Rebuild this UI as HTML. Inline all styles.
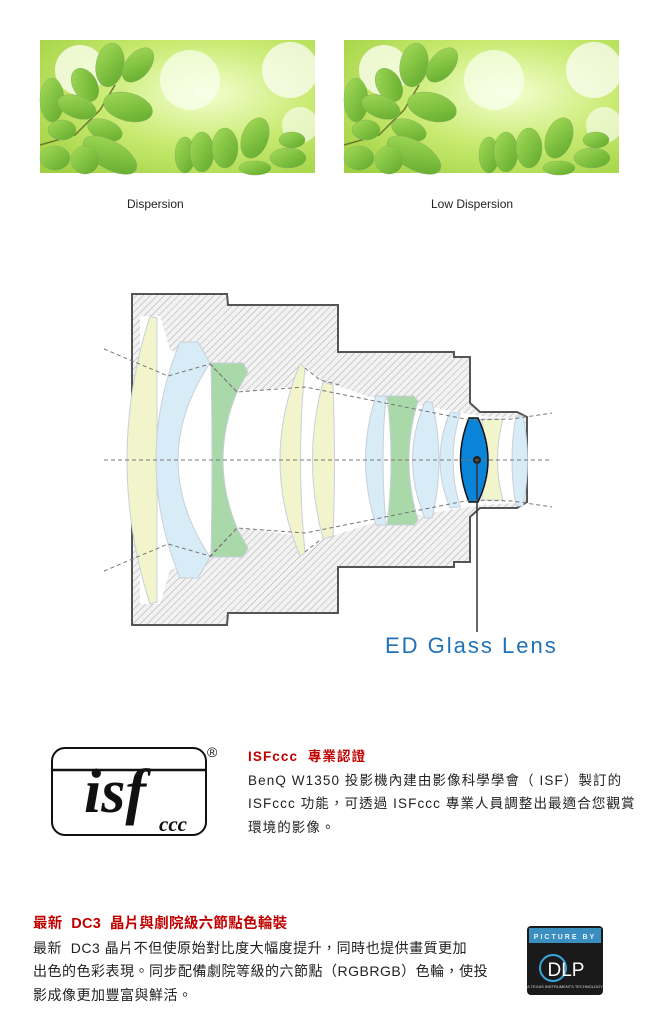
<!DOCTYPE html>
<html><head><meta charset="utf-8"><style>
body{margin:0;width:650px;height:1017px;background:#fff;position:relative;overflow:hidden;font-family:"Liberation Sans","Noto Sans CJK TC",sans-serif}
.a{position:absolute;white-space:nowrap}
.t{font-size:13.5px;color:#222;line-height:23.5px;letter-spacing:1.1px}
.r{color:#c00000;font-weight:bold}
</style></head><body>
<svg width="650" height="1017" style="position:absolute;left:0;top:0">
<defs>
<radialGradient id="bg" cx="0.6" cy="0.4" r="0.8"><stop offset="0" stop-color="#f4ffd0"/><stop offset="0.5" stop-color="#c8ea70"/><stop offset="1" stop-color="#9fd040"/></radialGradient>
<linearGradient id="lf" x1="0" y1="0" x2="1" y2="1"><stop offset="0" stop-color="#a6dc5a"/><stop offset="1" stop-color="#5fa82a"/></linearGradient>
<pattern id="h" width="5" height="5" patternUnits="userSpaceOnUse" patternTransform="rotate(45)"><rect width="5" height="5" fill="#f2f2f2"/><line x1="0" y1="0" x2="0" y2="5" stroke="#aaa" stroke-width="1"/></pattern>
<g id="ph">
<rect width="275" height="133" fill="url(#bg)"/>
<circle cx="40" cy="30" r="25" fill="#fbfff0" opacity=".8"/><circle cx="150" cy="40" r="30" fill="#fafff0" opacity=".7"/><circle cx="250" cy="30" r="28" fill="#fff" opacity=".7"/><circle cx="260" cy="85" r="18" fill="#fff" opacity=".6"/>
<path d="M0,105 L35,95 L60,70 L75,45" stroke="#6b7a2a" stroke-width="1.5" fill="none"/>
<g fill="url(#lf)" stroke="#88b060" stroke-width=".5">
<ellipse cx="70" cy="25" rx="14" ry="22" transform="rotate(10 70 25)"/>
<ellipse cx="98" cy="25" rx="12" ry="20" transform="rotate(40 98 25)"/>
<ellipse cx="45" cy="45" rx="12" ry="18" transform="rotate(-30 45 45)"/>
<ellipse cx="88" cy="67" rx="25" ry="14" transform="rotate(15 88 67)"/>
<ellipse cx="12" cy="60" rx="12" ry="22"/>
<ellipse cx="37" cy="67" rx="20" ry="11" transform="rotate(20 37 67)"/>
<ellipse cx="22" cy="90" rx="14" ry="10"/>
<ellipse cx="65" cy="90" rx="18" ry="10" transform="rotate(20 65 90)"/>
<ellipse cx="70" cy="115" rx="30" ry="14" transform="rotate(30 70 115)"/>
<ellipse cx="45" cy="120" rx="14" ry="14"/>
<ellipse cx="15" cy="118" rx="15" ry="12"/>
<ellipse cx="145" cy="115" rx="10" ry="18"/>
<ellipse cx="162" cy="112" rx="12" ry="20"/>
<ellipse cx="185" cy="108" rx="13" ry="20"/>
<ellipse cx="215" cy="98" rx="13" ry="21" transform="rotate(20 215 98)"/>
<ellipse cx="252" cy="100" rx="13" ry="8"/>
<ellipse cx="248" cy="118" rx="18" ry="10"/>
<ellipse cx="215" cy="128" rx="16" ry="7"/>
</g></g>
</defs>
<use href="#ph" x="40" y="40"/>
<use href="#ph" x="344" y="40"/>

<path d="M132,294 L227,294 L228,305 L338,305 L338,352 L454,352 L454,357 L470,357 L470,403 L480,412 L517,412 L527,417 L527,502 L517,508 L480,508 L470,517 L470,562 L454,562 L454,567 L338,567 L338,613 L228,613 L227,625 L132,625 Z" fill="url(#h)" stroke="#555" stroke-width="2"/>
<path d="M140,316 L160,316 L170,350 L210,364 L243,366 L240,392 L295,386 L305,366 L320,380 L370,397 L420,405 L480,416 L515,418 L515,503 L480,505 L420,515 L370,524 L320,540 L305,555 L295,535 L240,528 L243,554 L210,557 L170,570 L160,604 L140,604 Z" fill="#fff"/>
<g stroke="#c8d0d8" stroke-width="1">
<path d="M150,316 L157,318 L157,602 L150,604 Q104,460 150,316Z" fill="#f2f5cc"/>
<path d="M180,342 L198,342 L210,363 Q146,460 210,557 L198,578 L180,578 Q132,460 180,342Z" fill="#d8ecf8"/>
<path d="M211,363 L243,363 L248,372 L237,392 Q209,460 237,528 L248,548 L243,557 L211,557 Q213,460 211,363Z" fill="#a9d8a9"/>
<path d="M300,364 L305,368 Q296,460 305,553 L300,556 Q260,460 300,364Z" fill="#f2f5cc"/>
<path d="M323,382 L333,385 Q336,460 333,536 L323,539 Q302,460 323,382Z" fill="#f2f5cc"/>
<path d="M376,396 L386,396 Q380,460 386,525 L376,525 Q355,460 376,396Z" fill="#d8ecf8"/>
<path d="M387,396 L414,396 L418,401 Q400,460 418,520 L414,525 L387,525 Q395,460 387,396Z" fill="#a9d8a9"/>
<path d="M425,402 L432,402 Q446,460 432,518 L425,518 Q400,460 425,402Z" fill="#d8ecf8"/>
<path d="M450,412 L460,413 Q446,460 460,507 L450,508 Q430,460 450,412Z" fill="#d8ecf8"/>
<path d="M482,419 L503,419 Q492,460 503,500 L482,500 Q488,460 482,419Z" fill="#f2f5cc"/>
<path d="M516,416 L523,416 Q532,460 523,506 L516,506 Q508,460 516,416Z" fill="#d8ecf8"/>
</g>
<path d="M469,418 L478,418 Q498,460 478,502 L469,502 Q452,460 469,418Z" fill="#0a84d8" stroke="#111" stroke-width="1.5"/>
<circle cx="477" cy="460" r="4" fill="#222"/>
<line x1="477" y1="460" x2="477" y2="632" stroke="#333" stroke-width="1.5"/>
<g stroke="#777" stroke-dasharray="4,3" fill="none" stroke-width="1">
<line x1="104" y1="460" x2="552" y2="460"/>
<path d="M104,349 L168,376 L210,364 L237,392 L305,387 L380,402 L470,420 L512,419 L552,413"/>
<path d="M104,571 L168,544 L210,556 L237,528 L305,533 L380,518 L470,500 L512,501 L552,507"/>
<path d="M210,364 L237,392 M305,368 L320,380 L340,385 M210,557 L237,528 M305,552 L320,540"/>
</g>
<rect x="52" y="748" width="154" height="87" rx="13" fill="#fff" stroke="#111" stroke-width="2"/>
<line x1="52" y1="770" x2="206" y2="770" stroke="#111" stroke-width="2.5"/>
<text x="84" y="812" font-family="Liberation Serif,serif" font-style="italic" font-weight="bold" font-size="62" fill="#111">isf</text>
<text x="159" y="831" font-family="Liberation Serif,serif" font-style="italic" font-weight="bold" font-size="21" fill="#111">ccc</text>
<text x="207" y="757" font-family="Liberation Sans,sans-serif" font-size="14" fill="#111">®</text>
<rect x="527" y="926" width="76" height="69" rx="4" fill="#1a1a1a"/>
<rect x="529" y="928" width="72" height="15" fill="#3a8ec0"/>
<text x="565" y="939" text-anchor="middle" font-size="7" fill="#e8f4ff" font-weight="bold" letter-spacing="2">PICTURE BY</text>
<circle cx="553" cy="968" r="13" fill="none" stroke="#3aa6e0" stroke-width="2"/>
<text x="566" y="976" text-anchor="middle" font-size="19" fill="#fff">DLP</text>
<text x="565" y="988" text-anchor="middle" font-size="4" fill="#ddd">A TEXAS INSTRUMENTS TECHNOLOGY</text>
</svg>
<div class="a" style="left:127px;top:197px;font-size:12px;color:#222">Dispersion</div>
<div class="a" style="left:431px;top:197px;font-size:12px;color:#222">Low Dispersion</div>
<div class="a" style="left:385px;top:633px;font-size:22px;color:#1f72b8;letter-spacing:2px">ED Glass Lens</div>
<div class="a t" style="left:248px;top:745px"><span class="r">ISFccc&nbsp; 專業認證</span><br>BenQ W1350 投影機內建由影像科學學會（ ISF）製訂的<br>ISFccc 功能，可透過 ISFccc 專業人員調整出最適合您觀賞<br>環境的影像。</div>
<div class="a t" style="left:33px;top:912px;font-size:14px;letter-spacing:0.5px"><span class="r" style="font-size:14.5px;letter-spacing:0.3px">最新&nbsp; DC3&nbsp; 晶片與劇院級六節點色輪裝</span><br>最新&nbsp; DC3 晶片不但使原始對比度大幅度提升，同時也提供畫質更加<br>出色的色彩表現。同步配備劇院等級的六節點（RGBRGB）色輪，使投<br>影成像更加豐富與鮮活。</div>
</body></html>
